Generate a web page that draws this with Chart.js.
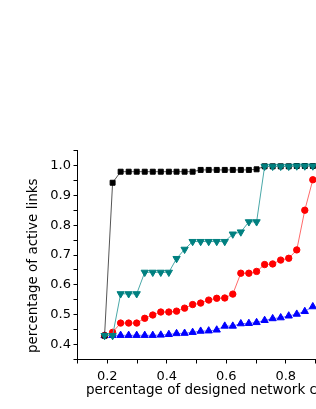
<!DOCTYPE html>
<html>
<head>
<meta charset="utf-8">
<script src="https://cdn.jsdelivr.net/npm/chart.js@4/dist/chart.umd.min.js"></script>
<style>
  html, body { margin: 0; padding: 0; background: #fff; width: 316px; height: 409px; overflow: hidden; }
  #wrap { position: absolute; left: 0; top: 0; }
</style>
</head>
<body>
<div id="wrap"><canvas id="chart" width="390" height="409"></canvas></div>
<script>
// x positions of the samples (fraction of designed network capacity)
const xValues = [0.191, 0.218, 0.245, 0.272, 0.299, 0.326, 0.353, 0.380, 0.407, 0.433,
  0.460, 0.487, 0.514, 0.541, 0.568, 0.595, 0.622, 0.649, 0.676, 0.702,
  0.729, 0.756, 0.783, 0.810, 0.837, 0.864, 0.891];

// black squares
const squareSeries = [0.43, 0.942, 0.979, 0.979, 0.979, 0.979, 0.979, 0.979, 0.979, 0.979,
  0.979, 0.979, 0.985, 0.985, 0.985, 0.985, 0.985, 0.985, 0.985, 0.987,
  0.997, 0.997, 0.997, 0.997, 0.998, 0.998, 0.998];
// teal down triangles
const downTriSeries = [0.43, 0.43, 0.57, 0.57, 0.57, 0.642, 0.642, 0.642, 0.642, 0.688,
  0.719, 0.745, 0.745, 0.745, 0.745, 0.745, 0.77, 0.777, 0.811, 0.811,
  0.997, 0.997, 0.997, 0.997, 0.998, 0.998, 0.998];
// red circles
const circleSeries = [0.43, 0.441, 0.472, 0.472, 0.472, 0.488, 0.499, 0.509, 0.509, 0.512,
  0.522, 0.534, 0.539, 0.549, 0.555, 0.556, 0.569, 0.639, 0.639, 0.645,
  0.668, 0.67, 0.683, 0.689, 0.717, 0.85, 0.952];
// blue up triangles
const upTriSeries = [0.43, 0.431, 0.431, 0.431, 0.431, 0.431, 0.431, 0.432, 0.434, 0.437,
  0.438, 0.441, 0.445, 0.446, 0.449, 0.462, 0.462, 0.47, 0.471, 0.474,
  0.481, 0.487, 0.49, 0.496, 0.502, 0.511, 0.527];

const xTitle = "percentage of designed network capacity";
const yTitle = "percentage of active links";

const toPoints = (ys) => ys.map((y, i) => ({ x: xValues[i], y: y }));

const fontFamily = "'DejaVu Sans', sans-serif";

const ctx = document.getElementById("chart").getContext("2d");

const data = {
  datasets: [
    {
      data: toPoints(downTriSeries),
      borderColor: "#4aa8a8",
      backgroundColor: "#008080",
      pointBorderColor: "#008080",
      pointStyle: "triangle",
      rotation: 180,
      pointRadius: 4.2,
    },
    {
      data: toPoints(squareSeries),
      borderColor: "#555555",
      backgroundColor: "#000000",
      pointBorderColor: "#000000",
      pointStyle: "rect",
      pointRadius: 3.5,
    },
    {
      data: toPoints(circleSeries),
      borderColor: "#ff6a6a",
      backgroundColor: "#ff0000",
      pointBorderColor: "#ff0000",
      pointStyle: "circle",
      pointRadius: 3.2,
    },
    {
      data: toPoints(upTriSeries),
      borderColor: "#7a7aff",
      backgroundColor: "#0000ff",
      pointBorderColor: "#0000ff",
      pointStyle: "triangle",
      pointRadius: 4.2,
    },
  ],
};

const config = {
  type: "line",
  data: data,
  options: {
    responsive: false,
    animation: false,
    devicePixelRatio: 1,
    layout: { padding: { top: 150.5, right: 15, bottom: 0, left: 0 } },
    elements: {
      line: { borderWidth: 1, tension: 0 },
      point: { borderWidth: 1 },
    },
    plugins: {
      legend: { display: false },
      tooltip: { enabled: false },
    },
    scales: {
      x: {
        type: "linear",
        min: 0.1,
        max: 1.1,
        afterFit(scale) { scale.height = 49.5; },
        border: { display: true, color: "#000", width: 1 },
        grid: { drawOnChartArea: false, color: "#000", tickLength: 4 },
        ticks: {
          stepSize: 0.1,
          padding: 5,
          color: "#000",
          font: { family: fontFamily, size: 13 },
          maxRotation: 0,
          autoSkip: false,
          callback: (v) => (Math.round(v * 10) % 2 === 0 ? v.toFixed(1) : ""),
        },
        title: {
          display: true,
          text: xTitle,
          color: "#000",
          font: { family: fontFamily, size: 13.5 },
          padding: { top: 0, bottom: 10.7 },
        },
      },
      y: {
        min: 0.35,
        max: 1.05,
        afterFit(scale) { scale.width = 77.5; },
        border: { display: true, color: "#000", width: 1 },
        grid: { drawOnChartArea: false, color: "#000", tickLength: 4 },
        ticks: {
          stepSize: 0.05,
          padding: 2.5,
          color: "#000",
          font: { family: fontFamily, size: 13 },
          autoSkip: false,
          callback: (v) => (Math.round(v * 100) % 10 === 0 ? v.toFixed(1) : ""),
        },
        title: {
          display: true,
          // trailing spaces nudge the title down like the original
          text: yTitle + "     ",
          color: "#000",
          font: { family: fontFamily, size: 13.5 },
          padding: { top: 25.7, bottom: 0 },
        },
      },
    },
  },
};

new Chart(ctx, config);
</script>
</body>
</html>
